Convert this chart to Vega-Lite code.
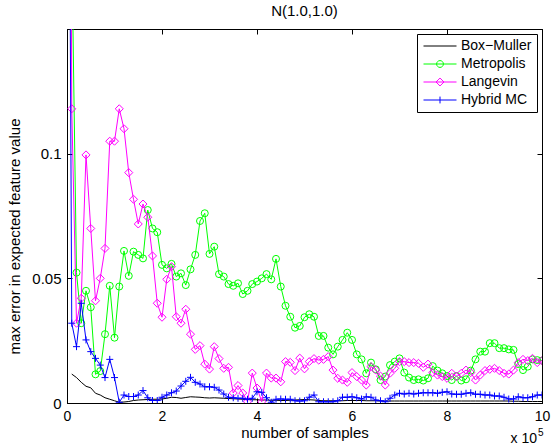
{
 "$schema": "https://vega.github.io/schema/vega-lite/v6.json",
 "width": 475, "height": 374,
 "autosize": "none",
 "padding": {"left": 67, "top": 29, "right": 10, "bottom": 44},
 "background": "white",
 "title": {"text": "N(1.0,1.0)", "fontSize": 15, "fontWeight": "normal", "color": "black", "offset": 10},
 "data": {"values": [
  {"x":0.01,"Box−Muller":null,"Metropolis":0.3,"Langevin":0.6,"Hybrid MC":0.38},
  {"x":0.1,"Box−Muller":0.0116,"Metropolis":0.184,"Langevin":0.118,"Hybrid MC":0.032},
  {"x":0.2,"Box−Muller":0.0102,"Metropolis":0.0523,"Langevin":0.032,"Hybrid MC":0.0226},
  {"x":0.3,"Box−Muller":0.0083,"Metropolis":0.032,"Langevin":0.042,"Hybrid MC":0.040},
  {"x":0.4,"Box−Muller":0.0067,"Metropolis":0.045,"Langevin":0.0995,"Hybrid MC":0.0253},
  {"x":0.5,"Box−Muller":0.0061,"Metropolis":0.0384,"Langevin":0.070,"Hybrid MC":0.0206},
  {"x":0.6,"Box−Muller":0.0039,"Metropolis":0.0115,"Langevin":0.041,"Hybrid MC":0.0179},
  {"x":0.7,"Box−Muller":0.0032,"Metropolis":0.0128,"Langevin":0.050,"Hybrid MC":0.0152},
  {"x":0.8,"Box−Muller":0.0021,"Metropolis":0.0276,"Langevin":0.062,"Hybrid MC":0.0102},
  {"x":0.9,"Box−Muller":0.0015,"Metropolis":0.047,"Langevin":0.105,"Hybrid MC":0.0175},
  {"x":1.0,"Box−Muller":0.0009,"Metropolis":0.0262,"Langevin":0.105,"Hybrid MC":0.0102},
  {"x":1.1,"Box−Muller":0.0003,"Metropolis":0.0467,"Langevin":0.118,"Hybrid MC":0.0003},
  {"x":1.2,"Box−Muller":0.0004,"Metropolis":0.061,"Langevin":0.110,"Hybrid MC":0.0032},
  {"x":1.3,"Box−Muller":0.0006,"Metropolis":0.051,"Langevin":0.0924,"Hybrid MC":0.0026},
  {"x":1.4,"Box−Muller":0.001,"Metropolis":0.0607,"Langevin":0.0817,"Hybrid MC":0.0026},
  {"x":1.5,"Box−Muller":0.0012,"Metropolis":0.0594,"Langevin":0.0718,"Hybrid MC":0.0032},
  {"x":1.6,"Box−Muller":0.0013,"Metropolis":0.058,"Langevin":0.0798,"Hybrid MC":0.005},
  {"x":1.7,"Box−Muller":0.0014,"Metropolis":0.0774,"Langevin":0.0745,"Hybrid MC":0.0021},
  {"x":1.8,"Box−Muller":0.0015,"Metropolis":0.070,"Langevin":0.059,"Hybrid MC":0.001},
  {"x":1.9,"Box−Muller":0.0015,"Metropolis":0.0685,"Langevin":0.040,"Hybrid MC":0.001},
  {"x":2.0,"Box−Muller":0.0016,"Metropolis":0.0554,"Langevin":0.0344,"Hybrid MC":0.0023},
  {"x":2.1,"Box−Muller":0.0019,"Metropolis":0.054,"Langevin":0.0496,"Hybrid MC":0.0032},
  {"x":2.2,"Box−Muller":0.0023,"Metropolis":0.0558,"Langevin":0.0547,"Hybrid MC":0.0041},
  {"x":2.3,"Box−Muller":0.0022,"Metropolis":0.0507,"Langevin":0.0346,"Hybrid MC":0.0048},
  {"x":2.4,"Box−Muller":0.0019,"Metropolis":0.052,"Langevin":0.032,"Hybrid MC":0.0068},
  {"x":2.5,"Box−Muller":0.0022,"Metropolis":0.0473,"Langevin":0.0376,"Hybrid MC":0.0087},
  {"x":2.6,"Box−Muller":0.0025,"Metropolis":0.0536,"Langevin":0.0276,"Hybrid MC":0.0103},
  {"x":2.7,"Box−Muller":0.0024,"Metropolis":0.0594,"Langevin":0.0215,"Hybrid MC":0.0083},
  {"x":2.8,"Box−Muller":0.0023,"Metropolis":0.073,"Langevin":0.023,"Hybrid MC":0.0076},
  {"x":2.9,"Box−Muller":0.0021,"Metropolis":0.0761,"Langevin":0.0156,"Hybrid MC":0.0065},
  {"x":3.0,"Box−Muller":0.002,"Metropolis":0.0598,"Langevin":0.0136,"Hybrid MC":0.0065},
  {"x":3.1,"Box−Muller":0.0021,"Metropolis":0.0627,"Langevin":0.0226,"Hybrid MC":0.0063},
  {"x":3.2,"Box−Muller":0.002,"Metropolis":0.0517,"Langevin":0.0178,"Hybrid MC":0.0052},
  {"x":3.3,"Box−Muller":0.0019,"Metropolis":0.0507,"Langevin":0.0139,"Hybrid MC":0.0036},
  {"x":3.4,"Box−Muller":0.0018,"Metropolis":0.0477,"Langevin":0.0143,"Hybrid MC":0.0023},
  {"x":3.5,"Box−Muller":0.0017,"Metropolis":0.047,"Langevin":0.004,"Hybrid MC":0.0021},
  {"x":3.6,"Box−Muller":0.0016,"Metropolis":0.048,"Langevin":0.007,"Hybrid MC":0.0019},
  {"x":3.7,"Box−Muller":0.0015,"Metropolis":0.0437,"Langevin":0.004,"Hybrid MC":0.0019},
  {"x":3.8,"Box−Muller":0.0014,"Metropolis":0.045,"Langevin":0.0005,"Hybrid MC":0.0015},
  {"x":3.9,"Box−Muller":0.0013,"Metropolis":0.0477,"Langevin":0.012,"Hybrid MC":0.0019},
  {"x":4.0,"Box−Muller":0.0013,"Metropolis":0.0487,"Langevin":0.006,"Hybrid MC":0.0045},
  {"x":4.1,"Box−Muller":0.0012,"Metropolis":0.05,"Langevin":0.0005,"Hybrid MC":0.0043},
  {"x":4.2,"Box−Muller":0.0012,"Metropolis":0.0517,"Langevin":0.012,"Hybrid MC":0.0021},
  {"x":4.3,"Box−Muller":0.0011,"Metropolis":0.0496,"Langevin":0.010,"Hybrid MC":0.0003},
  {"x":4.4,"Box−Muller":0.0011,"Metropolis":0.0578,"Langevin":0.010,"Hybrid MC":0.0015},
  {"x":4.5,"Box−Muller":0.001,"Metropolis":0.0467,"Langevin":0.0085,"Hybrid MC":0.0016},
  {"x":4.6,"Box−Muller":0.001,"Metropolis":0.039,"Langevin":0.0166,"Hybrid MC":0.0015},
  {"x":4.7,"Box−Muller":0.0011,"Metropolis":0.0346,"Langevin":0.0163,"Hybrid MC":0.0015},
  {"x":4.8,"Box−Muller":0.0012,"Metropolis":0.0302,"Langevin":0.013,"Hybrid MC":0.0009},
  {"x":4.9,"Box−Muller":0.0013,"Metropolis":0.0309,"Langevin":0.018,"Hybrid MC":0.0008},
  {"x":5.0,"Box−Muller":0.0014,"Metropolis":0.0344,"Langevin":0.0137,"Hybrid MC":0.0009},
  {"x":5.1,"Box−Muller":0.0013,"Metropolis":0.0356,"Langevin":0.0166,"Hybrid MC":0.0023},
  {"x":5.2,"Box−Muller":0.0012,"Metropolis":0.0346,"Langevin":0.0178,"Hybrid MC":0.0032},
  {"x":5.3,"Box−Muller":0.001,"Metropolis":0.0269,"Langevin":0.0172,"Hybrid MC":0.0005},
  {"x":5.4,"Box−Muller":0.0009,"Metropolis":0.0269,"Langevin":0.0175,"Hybrid MC":0.0005},
  {"x":5.5,"Box−Muller":0.0009,"Metropolis":0.0222,"Langevin":0.0186,"Hybrid MC":0.0005},
  {"x":5.6,"Box−Muller":0.0009,"Metropolis":0.0195,"Langevin":0.0132,"Hybrid MC":0.0005},
  {"x":5.7,"Box−Muller":0.0009,"Metropolis":0.0226,"Langevin":0.0099,"Hybrid MC":0.0009},
  {"x":5.8,"Box−Muller":0.0009,"Metropolis":0.0253,"Langevin":0.0092,"Hybrid MC":0.0023},
  {"x":5.9,"Box−Muller":0.001,"Metropolis":0.0282,"Langevin":0.0083,"Hybrid MC":0.0023},
  {"x":6.0,"Box−Muller":0.001,"Metropolis":0.0253,"Langevin":0.0122,"Hybrid MC":0.0025},
  {"x":6.1,"Box−Muller":0.001,"Metropolis":0.0195,"Langevin":0.0106,"Hybrid MC":0.0021},
  {"x":6.2,"Box−Muller":0.001,"Metropolis":0.0175,"Langevin":0.0092,"Hybrid MC":0.0016},
  {"x":6.3,"Box−Muller":0.0009,"Metropolis":0.0119,"Langevin":0.0072,"Hybrid MC":0.0025},
  {"x":6.4,"Box−Muller":0.0009,"Metropolis":0.0162,"Langevin":0.0146,"Hybrid MC":0.0023},
  {"x":6.5,"Box−Muller":0.0009,"Metropolis":0.0135,"Langevin":0.0132,"Hybrid MC":0.0012},
  {"x":6.6,"Box−Muller":0.0008,"Metropolis":0.0092,"Langevin":0.0108,"Hybrid MC":0.0009},
  {"x":6.7,"Box−Muller":0.0008,"Metropolis":0.0106,"Langevin":0.0072,"Hybrid MC":0.0005},
  {"x":6.8,"Box−Muller":0.0008,"Metropolis":0.0152,"Langevin":0.0119,"Hybrid MC":0.0019},
  {"x":6.9,"Box−Muller":0.0008,"Metropolis":0.0166,"Langevin":0.0139,"Hybrid MC":0.0032},
  {"x":7.0,"Box−Muller":0.0008,"Metropolis":0.0179,"Langevin":0.0166,"Hybrid MC":0.0039},
  {"x":7.1,"Box−Muller":0.0008,"Metropolis":0.0122,"Langevin":0.0166,"Hybrid MC":0.0036},
  {"x":7.2,"Box−Muller":0.0008,"Metropolis":0.0102,"Langevin":0.0162,"Hybrid MC":0.0039},
  {"x":7.3,"Box−Muller":0.0008,"Metropolis":0.0092,"Langevin":0.0162,"Hybrid MC":0.0036},
  {"x":7.4,"Box−Muller":0.0008,"Metropolis":0.0095,"Langevin":0.0159,"Hybrid MC":0.0039},
  {"x":7.5,"Box−Muller":0.0008,"Metropolis":0.009,"Langevin":0.0143,"Hybrid MC":0.0041},
  {"x":7.6,"Box−Muller":0.0008,"Metropolis":0.0099,"Langevin":0.0156,"Hybrid MC":0.0041},
  {"x":7.7,"Box−Muller":0.0008,"Metropolis":0.0148,"Langevin":0.0122,"Hybrid MC":0.0041},
  {"x":7.8,"Box−Muller":0.0008,"Metropolis":0.013,"Langevin":0.0112,"Hybrid MC":0.0039},
  {"x":7.9,"Box−Muller":0.0008,"Metropolis":0.0119,"Langevin":0.0106,"Hybrid MC":0.0043},
  {"x":8.0,"Box−Muller":0.0008,"Metropolis":0.0108,"Langevin":0.0099,"Hybrid MC":0.0045},
  {"x":8.1,"Box−Muller":0.0008,"Metropolis":0.0092,"Langevin":0.0119,"Hybrid MC":0.0036},
  {"x":8.2,"Box−Muller":0.0008,"Metropolis":0.0108,"Langevin":0.0106,"Hybrid MC":0.0035},
  {"x":8.3,"Box−Muller":0.0008,"Metropolis":0.009,"Langevin":0.0119,"Hybrid MC":0.0035},
  {"x":8.4,"Box−Muller":0.0008,"Metropolis":0.0095,"Langevin":0.0132,"Hybrid MC":0.0039},
  {"x":8.5,"Box−Muller":0.0008,"Metropolis":0.013,"Langevin":0.0122,"Hybrid MC":0.0041},
  {"x":8.6,"Box−Muller":0.0008,"Metropolis":0.0175,"Langevin":0.0092,"Hybrid MC":0.0035},
  {"x":8.7,"Box−Muller":0.0008,"Metropolis":0.0206,"Langevin":0.0112,"Hybrid MC":0.0035},
  {"x":8.8,"Box−Muller":0.0008,"Metropolis":0.0206,"Langevin":0.013,"Hybrid MC":0.0032},
  {"x":8.9,"Box−Muller":0.0008,"Metropolis":0.024,"Langevin":0.0135,"Hybrid MC":0.0032},
  {"x":9.0,"Box−Muller":0.0008,"Metropolis":0.024,"Langevin":0.0139,"Hybrid MC":0.0028},
  {"x":9.1,"Box−Muller":0.0008,"Metropolis":0.022,"Langevin":0.013,"Hybrid MC":0.0028},
  {"x":9.2,"Box−Muller":0.0008,"Metropolis":0.022,"Langevin":0.0119,"Hybrid MC":0.0023},
  {"x":9.3,"Box−Muller":0.0008,"Metropolis":0.0215,"Langevin":0.0116,"Hybrid MC":0.0016},
  {"x":9.4,"Box−Muller":0.0007,"Metropolis":0.0213,"Langevin":0.0132,"Hybrid MC":0.0016},
  {"x":9.5,"Box−Muller":0.0007,"Metropolis":0.0156,"Langevin":0.0162,"Hybrid MC":0.0025},
  {"x":9.6,"Box−Muller":0.0006,"Metropolis":0.0132,"Langevin":0.0175,"Hybrid MC":0.0021},
  {"x":9.7,"Box−Muller":0.0006,"Metropolis":0.0146,"Langevin":0.017,"Hybrid MC":0.0021},
  {"x":9.8,"Box−Muller":0.0006,"Metropolis":0.0175,"Langevin":0.0179,"Hybrid MC":0.0025},
  {"x":9.9,"Box−Muller":0.0006,"Metropolis":0.0172,"Langevin":0.0162,"Hybrid MC":0.0032},
  {"x":10.0,"Box−Muller":0.0006,"Metropolis":0.017,"Langevin":0.017,"Hybrid MC":0.0032}
 ]},
 "layer": [
  {
   "transform": [{"fold": ["Box−Muller"], "as": ["series","value"]}, {"filter": "isValid(datum.value)"}],
   "mark": {"type": "line", "clip": true, "strokeWidth": 1, "color": "#000000"},
   "encoding": {
    "x": {"field": "x", "type": "quantitative", "scale": {"domain": [0,10], "nice": false, "zero": false},
          "axis": {"orient": "bottom", "values": [0,2,4,6,8,10], "format": "d", "title": "number of samples", "labelFontSize": 14, "tickSize": -5, "labelPadding": 11, "titlePadding": 2, "labelFlush": false, "grid": false}},
    "y": {"field": "value", "type": "quantitative", "scale": {"domain": [0,0.15], "nice": false},
          "axis": {"orient": "left", "values": [0,0.05,0.1], "labelExpr": "'' + datum.value", "title": "max error in expected feature value", "tickSize": -5, "labelPadding": 11, "titlePadding": 9, "titleY": 207, "grid": false}}
   }
  },
  {
   "transform": [{"fold": ["Metropolis"], "as": ["series","value"]}, {"filter": "isValid(datum.value)"}],
   "mark": {"type": "line", "clip": true, "strokeWidth": 1, "color": "#00ff00"},
   "encoding": {
    "x": {"field": "x", "type": "quantitative", "axis": null},
    "y": {"field": "value", "type": "quantitative", "axis": null}
   }
  },
  {
   "transform": [{"fold": ["Metropolis"], "as": ["series","value"]}, {"filter": "isValid(datum.value)"}],
   "mark": {"type": "point", "clip": true, "filled": false, "strokeWidth": 1, "size": 49, "shape": "circle", "color": "#00ff00", "opacity": 1},
   "encoding": {
    "x": {"field": "x", "type": "quantitative", "axis": null},
    "y": {"field": "value", "type": "quantitative", "axis": null}
   }
  },
  {
   "transform": [{"fold": ["Langevin"], "as": ["series","value"]}, {"filter": "isValid(datum.value)"}],
   "mark": {"type": "line", "clip": true, "strokeWidth": 1, "color": "#ff00ff"},
   "encoding": {
    "x": {"field": "x", "type": "quantitative", "axis": null},
    "y": {"field": "value", "type": "quantitative", "axis": null}
   }
  },
  {
   "transform": [{"fold": ["Langevin"], "as": ["series","value"]}, {"filter": "isValid(datum.value)"}],
   "mark": {"type": "point", "clip": true, "filled": false, "strokeWidth": 1, "size": 49, "shape": "M-1.15,0L0,-1.15L1.15,0L0,1.15Z", "color": "#ff00ff", "opacity": 1},
   "encoding": {
    "x": {"field": "x", "type": "quantitative", "axis": null},
    "y": {"field": "value", "type": "quantitative", "axis": null}
   }
  },
  {
   "transform": [{"fold": ["Hybrid MC"], "as": ["series","value"]}, {"filter": "isValid(datum.value)"}],
   "mark": {"type": "line", "clip": true, "strokeWidth": 1, "color": "#0000ff"},
   "encoding": {
    "x": {"field": "x", "type": "quantitative", "axis": null},
    "y": {"field": "value", "type": "quantitative", "axis": null}
   }
  },
  {
   "transform": [{"fold": ["Hybrid MC"], "as": ["series","value"]}, {"filter": "isValid(datum.value)"}],
   "mark": {"type": "point", "clip": true, "filled": false, "strokeWidth": 1, "size": 49, "shape": "M-1,0H1M0,-1V1", "color": "#0000ff", "opacity": 1},
   "encoding": {
    "x": {"field": "x", "type": "quantitative", "axis": null},
    "y": {"field": "value", "type": "quantitative", "axis": null}
   }
  },
  {
   "transform": [{"fold": ["Box−Muller","Metropolis","Langevin","Hybrid MC"], "as": ["series","value"]}, {"filter": "datum.x == 10"}],
   "mark": {"type": "point", "filled": false, "opacity": 0, "size": 121},
   "encoding": {
    "x": {"field": "x", "type": "quantitative", "axis": {"orient": "top", "values": [0,2,4,6,8,10], "labels": false, "title": null, "tickSize": -5, "grid": false}},
    "y": {"field": "value", "type": "quantitative", "axis": {"orient": "right", "values": [0,0.05,0.1], "labels": false, "title": null, "tickSize": -5, "grid": false}},
    "color": {"field": "series", "type": "nominal",
              "scale": {"domain": ["Box−Muller","Metropolis","Langevin","Hybrid MC"], "range": ["#000000","#00ff00","#ff00ff","#0000ff"]},
              "legend": {"title": null}},
    "shape": {"field": "series", "type": "nominal",
              "scale": {"domain": ["Box−Muller","Metropolis","Langevin","Hybrid MC"],
                        "range": ["M-3,0H3","M-3,0H3M-0.62,0A0.62,0.62 0 1,0 0.62,0A0.62,0.62 0 1,0 -0.62,0","M-3,0H3M-0.72,0L0,-0.72L0.72,0L0,0.72Z","M-3,0H3M0,-0.62V0.62"]},
              "legend": {"title": null}}
   }
  },
  {
   "data": {"values": [{"t": "x 10"}]},
   "mark": {"type": "text", "align": "right", "baseline": "alphabetic", "dx": -5, "dy": 40, "fontSize": 14, "color": "black"},
   "encoding": {
    "x": {"datum": 10, "type": "quantitative", "axis": null},
    "y": {"datum": 0, "type": "quantitative", "axis": null},
    "text": {"field": "t"}
   }
  },
  {
   "data": {"values": [{"t": "5"}]},
   "mark": {"type": "text", "align": "left", "baseline": "alphabetic", "dx": -4, "dy": 33, "fontSize": 10, "color": "black"},
   "encoding": {
    "x": {"datum": 10, "type": "quantitative", "axis": null},
    "y": {"datum": 0, "type": "quantitative", "axis": null},
    "text": {"field": "t"}
   }
  }
 ],
 "resolve": {"axis": {"x": "independent", "y": "independent"}},
 "config": {
  "font": "Liberation Sans",
  "view": {"stroke": "black", "strokeWidth": 1},
  "axis": {"domainColor": "black", "tickColor": "black", "labelColor": "black", "titleColor": "black", "labelFontSize": 15, "titleFontSize": 15, "titleFontWeight": "normal", "labelOverlap": false, "labelBound": false},
  "legend": {"orient": "top-right", "offset": 5, "padding": 5, "strokeColor": "black", "fillColor": "white",
             "symbolSize": 121, "symbolStrokeWidth": 1, "symbolOffset": 11, "labelOffset": 14, "labelFontSize": 14, "labelColor": "black",
             "rowPadding": 4, "symbolOpacity": 1, "symbolFillColor": "transparent"}
 }
}
